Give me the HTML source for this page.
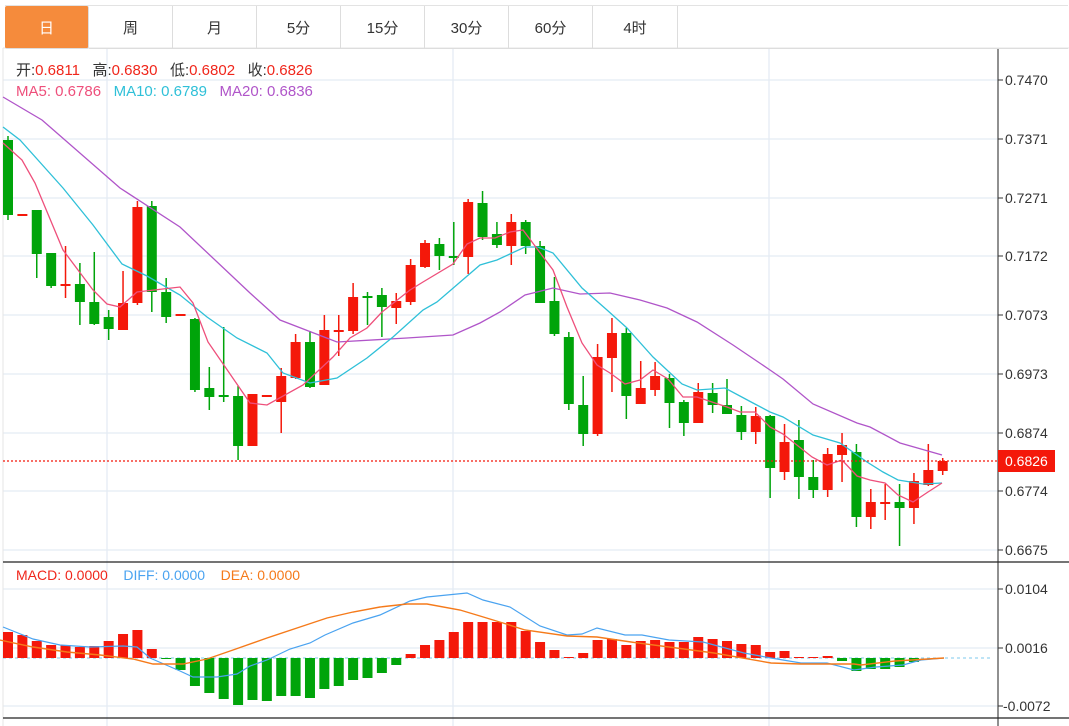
<!DOCTYPE html>
<html><head><meta charset="utf-8"><style>
html,body{margin:0;padding:0;background:#fff;width:1069px;height:726px;overflow:hidden;font-family:"Liberation Sans","Noto Sans CJK SC",sans-serif}
.tabs{position:absolute;left:5px;top:5px;height:43px;display:flex;border-top:1px solid #e3e3e3}
.tab{width:83px;height:42px;border-right:1px solid #ddd;display:flex;align-items:center;justify-content:center;font-size:15px;color:#333;border-bottom:1px solid #ddd}
.tab.on{background:#f58b3c;color:#fff;border-radius:2px}
.t{position:absolute;font-size:15px;white-space:nowrap}
svg{position:absolute;left:0;top:0}
</style></head><body>
<svg id="s" width="1069" height="726" xmlns="http://www.w3.org/2000/svg"></svg>
<div class="tabs"><div class="tab on">日</div><div class="tab">周</div><div class="tab">月</div><div class="tab">5分</div><div class="tab">15分</div><div class="tab">30分</div><div class="tab">60分</div><div class="tab" style="width:84px">4时</div><div class="tab" style="width:390px;border-right:none"></div></div>
<div class="t" style="left:16px;top:59px;color:#333">开:<span style="color:#f0261b">0.6811</span>&nbsp;&nbsp; 高:<span style="color:#f0261b">0.6830</span>&nbsp;&nbsp; 低:<span style="color:#f0261b">0.6802</span>&nbsp;&nbsp; 收:<span style="color:#f0261b">0.6826</span></div>
<div class="t" style="left:16px;top:83px"><span style="color:#ee4f7b">MA5: 0.6786</span>&nbsp;&nbsp; <span style="color:#2fc0d8">MA10: 0.6789</span>&nbsp;&nbsp; <span style="color:#b055c9">MA20: 0.6836</span></div>
<div class="t" style="left:16px;top:567px;font-size:14px"><span style="color:#f0261b">MACD: 0.0000</span>&nbsp;&nbsp;&nbsp; <span style="color:#4aa3f0">DIFF: 0.0000</span>&nbsp;&nbsp;&nbsp; <span style="color:#f57a1a">DEA: 0.0000</span></div>
<script>
const S=document.getElementById('s');let h='';
const L=(x1,y1,x2,y2,c,w,extra)=>h+=`<line x1="${x1}" y1="${y1}" x2="${x2}" y2="${y2}" stroke="${c}" stroke-width="${w||1}" ${extra||''}/>`;
[80,139,198,256,315,374,433,491,550,589,648,706].forEach(y=>L(3,y,998,y,'#e4ecf3',1.3));
[107,453,769].forEach(x=>L(x,48,x,726,'#e4ecf3',1.3));
L(3,48,1069,48,'#e6e6e6',1);L(3,48,3,726,'#e6e6e6',1);
L(998,48,998,726,'#222',1);L(3,562,1069,562,'#222',1.2);L(3,718,1069,718,'#222',1.2);
const labs=[[80,'0.7470'],[139,'0.7371'],[198,'0.7271'],[256,'0.7172'],[315,'0.7073'],[374,'0.6973'],[433,'0.6874'],[491,'0.6774'],[550,'0.6675'],[589,'0.0104'],[648,'0.0016'],[706,'-0.0072']];
labs.forEach(([y,t])=>{L(998,y,1003,y,'#333',1);h+=`<text x="${t[0]=='-'?1003:1005}" y="${y+5}" font-size="14" fill="#333" font-family="Liberation Sans,sans-serif">${t}</text>`});
const C=[['g',140,215,136,220],['r',214,216,214,216],['g',210,254,210,278],['g',253,286,253,288],['r',284,286,246,298],['g',284,302,263,325],['g',302,324,252,325],['g',317,329,310,340],['r',303,330,271,330],['r',207,303,201,305],['g',206,292,201,312],['g',292,317,278,323],['r',314,316,314,316],['g',319,390,318,392],['g',388,397,367,410],['g',395,397,327,402],['g',396,446,386,460],['r',394,446,394,446],['r',395,397,395,397],['r',376,402,368,433],['r',342,378,334,379],['g',342,387,331,388],['r',330,385,315,385],['r',330,332,315,356],['r',297,331,283,334],['g',296,298,292,325],['g',295,307,288,337],['r',301,308,293,324],['r',265,302,259,305],['r',243,267,240,268],['g',244,256,238,270],['g',256,258,222,265],['r',202,257,199,274],['g',203,237,191,240],
['g',234,245,222,248],['r',222,246,214,265],['g',222,246,220,254],['g',246,303,241,303],['g',301,334,277,336],['g',337,404,332,410],['g',405,434,376,446],['r',357,434,344,436],['r',333,358,318,392],['g',333,396,328,419],['r',388,404,361,404],['r',376,390,362,396],['g',378,403,374,428],['g',402,423,400,436],['r',392,423,383,423],['g',393,405,383,413],['g',405,414,379,414],['g',415,432,406,440],['r',416,432,407,444],['g',416,468,415,498],['r',442,472,424,480],['g',440,477,420,499],['g',477,490,460,498],['r',454,490,448,497],['r',445,455,433,482],['g',452,517,444,527],['r',502,517,489,529],['r',502,504,484,520],['g',502,508,484,546],['r',481,508,473,524],['r',470,485,444,486],['r',461,471,458,475]];
const X=i=>8+i*14.38;
C.forEach((c,i)=>{const x=X(i),col=c[0]=='g'?'#00a40a':'#f4180a';L(x,c[3],x,c[4],col,1.5);h+=`<rect x="${x-5}" y="${c[1]}" width="10" height="${Math.max(1.5,c[2]-c[1])}" fill="${col}"/>`});
const P=(pts,c,w)=>h+=`<polyline points="${pts}" fill="none" stroke="${c}" stroke-width="${w||1.3}"/>`;
P('3,97 42,120 120,188 180,227 250,293 280,320 337,342 407,338 453,335 480,323 500,312 525,295 553,288 580,294 610,293 640,300 667,308 697,322 733,345 770,370 783,379 813,404 857,423 870,427 900,443 942,455','#b055c9');
P('3,127 20,140 63,188 93,225 122,264 147,276 180,295 207,317 237,338 267,353 283,373 310,383 337,378 367,358 393,337 423,310 437,302 480,265 497,260 525,247 538,247 553,253 582,288 607,310 627,328 653,357 682,384 697,390 725,388 753,403 770,412 783,417 813,435 840,443 867,462 883,472 898,480 923,484 942,483','#2fc0d8');
P('3,143 22,160 35,183 63,250 93,290 107,304 120,307 137,292 180,287 193,303 208,342 250,403 267,405 303,385 333,357 350,338 367,328 382,312 410,290 423,282 453,264 467,244 480,238 495,238 510,232 523,230 538,250 553,270 567,307 582,343 597,365 610,373 625,384 640,380 653,370 668,379 683,397 697,397 727,407 740,412 755,412 770,427 783,434 812,457 827,465 842,460 857,476 870,480 885,483 898,495 913,502 928,492 942,483','#ee4f7b');
L(3,461,998,461,'#f4180a',1.2,'stroke-dasharray="2,2"');
h+=`<rect x="998" y="450" width="57" height="22" fill="#f4180a"/><text x="1005" y="466" font-size="14" fill="#fff" font-family="Liberation Sans,sans-serif">0.6826</text>`;
L(3,658,992,658,'#7cc8ec',1,'stroke-dasharray="3,3"');
const M=[632,635,641,645,645,647,646,641,634,630,649,659,670,686,693,699,705,700,701,696,696,698,689,686,680,678,673,665,654,645,640,632,622,622,622,622,631,642,650,657,653,640,639,645,641,640,642,642,637,639,641,644,645,652,651,657,657,656,661,671,669,669,667,662];
M.forEach((y,i)=>{const x=X(i),col=y>658?'#00a40a':'#f4180a';const t=Math.min(y,658),b=Math.max(y,658);h+=`<rect x="${x-5}" y="${t}" width="10" height="${Math.max(1,b-t)}" fill="${col}"/>`});
P('3,627 33,639 60,645 90,647 123,646 137,647 150,658 180,671 193,677 217,677 237,674 250,666 267,660 290,649 310,643 325,635 353,623 380,615 410,601 427,597 467,593 483,600 510,607 540,626 567,635 582,634 597,628 625,635 642,635 669,640 703,642 744,653 771,658 801,663 827,663 854,670 876,667 903,665 921,660 944,658','#4aa3f0',1.2);
P('0,640 33,647 67,652 100,655 133,659 153,664 183,664 207,659 233,650 267,638 300,627 327,618 353,612 380,607 407,604 427,604 460,610 480,616 503,623 525,630 567,636 597,637 631,642 669,647 714,653 771,663 801,664 854,664 861,665 895,661 944,658','#f57a1a',1.4);
S.innerHTML=h;
</script>
</body></html>
